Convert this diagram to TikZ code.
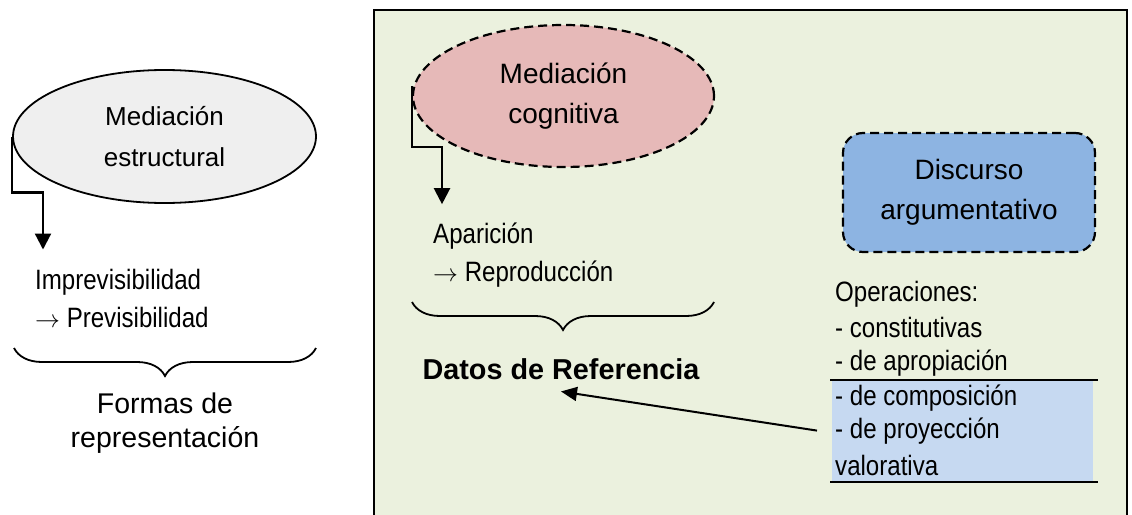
\documentclass[tikz,border=0pt]{standalone}
\usepackage{fontspec}
\setmainfont{Liberation Sans}
\newfontfamily\estrecha{Liberation Sans}[FakeStretch=0.86]
\usetikzlibrary{arrows.meta, positioning, shapes.geometric, decorations.pathreplacing}

\definecolor{verde}{HTML}{EBF1DE}
\definecolor{gris}{HTML}{EFEFEF}
\definecolor{rosa}{HTML}{E6B9B8}
\definecolor{azul}{HTML}{8DB4E2}
\definecolor{celeste}{HTML}{C6D9F1}

\begin{document}
\begin{tikzpicture}[x=1pt, y=-1pt,
    elipse/.style={ellipse, draw, line width=1.8pt, inner sep=0pt, align=center},
    discont/.style={line width=2.2pt, dash pattern=on 9pt off 5pt},
    texto/.style={anchor=base west, inner sep=0pt, font=\estrecha\fontsize{28}{34}\selectfont},
    flecha/.style={-{Triangle[width=16pt,length=16pt]}, line width=2.2pt},
    llave/.style={decorate, decoration={brace, amplitude=28pt, mirror}, line width=1.8pt}]
    \useasboundingbox (0,0) rectangle (1132,514);

    % Marco verde
    \fill[verde] (374,10) rectangle (1127,520);
    \draw[line width=2.5pt] (374,520) -- (374,10) -- (1127,10) -- (1127,520);

    % Izquierda
    \node[elipse, fill=gris, minimum width=303pt, minimum height=133pt,
          font=\fontsize{26}{41}\selectfont] (estr) at (164.5,136.5) {Mediación\\estructural};
    \node[texto] (impr) at (35,289) {Imprevisibilidad};
    \node[texto] (prev) at (35,327) {$\rightarrow$ Previsibilidad};
    \draw[flecha, shorten >=19pt] (estr.west) -- ++(0,56) -| ([xshift=8pt]impr.north west);
    \draw[llave] (14,348) -- (316,348);
    \node[anchor=north, inner sep=0pt, align=center, font=\fontsize{28.5}{34}\selectfont]
          (formas) at (165,393) {Formas de\\representación};

    % Centro
    \node[elipse, discont, fill=rosa, minimum width=301pt, minimum height=142pt,
          font=\fontsize{28}{40}\selectfont] (cogn) at (563.5,96) {Mediación\\cognitiva};
    \node[texto] (apar) at (433,243) {Aparición};
    \node[texto] (repr) at (433,281) {$\rightarrow$ Reproducción};
    \draw[flecha, shorten >=18pt] ([yshift=10pt]cogn.west) -- ++(0,61) -| ([xshift=9pt]apar.north west);
    \draw[llave] (412,302) -- (714,302);
    \node[anchor=base, inner sep=0pt, font=\bfseries\fontsize{28.8}{34}\selectfont]
          (datos) at (561,379) {Datos de Referencia};

    % Derecha
    \node[draw, discont, fill=azul, rounded corners=20pt, align=center,
          minimum width=252pt, minimum height=119pt,
          font=\fontsize{28}{40}\selectfont] (disc) at (969,192.5) {Discurso\\argumentativo};
    \fill[celeste] (832,381) rectangle (1093,482);
    \draw[line width=1.8pt] (830,380) -- (1098,380);
    \draw[line width=1.8pt] (830,482) -- (1098,482);
    \foreach \t/\y [count=\i] in {Operaciones:/301, - constitutivas/337, - de apropiación/370,
        - de composición/405, - de proyección/438, valorativa/475}
        \node[texto] (op\i) at (835,\y) {\t};

    \draw[-{Triangle[width=14pt,length=16pt]}, line width=2pt]
        ([xshift=-18pt]op5.west) -- ([yshift=-12pt]datos.south);
\end{tikzpicture}
\end{document}
